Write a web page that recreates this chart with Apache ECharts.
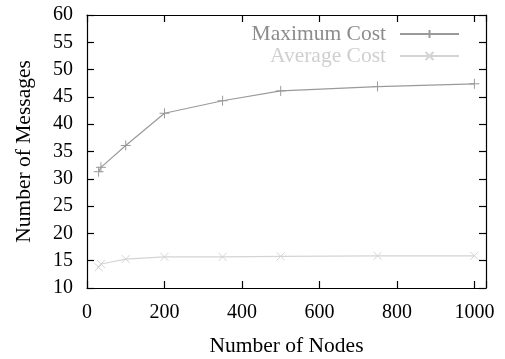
<!DOCTYPE html>
<html>
<head>
<meta charset="utf-8">
<script src="https://cdn.jsdelivr.net/npm/echarts@6/dist/echarts.min.js"></script>
<style>
html,body{margin:0;padding:0;background:#fff;}
#chart{width:505px;height:359px;}
</style>
</head>
<body>
<div id="chart"></div>
<script>
// Number of nodes and message counts per series
const nodes = [30, 36, 100, 200, 350, 500, 750, 1000];
const maxCost = [31.3, 32.1, 36.1, 42.0, 44.3, 46.1, 46.9, 47.4];
const avgCost = [13.8, 14.4, 15.3, 15.7, 15.7, 15.8, 15.9, 15.9];
const seriesNames = ['Maximum Cost', 'Average Cost'];
const xTicks = [0, 200, 400, 600, 800, 1000];
const yTicks = [10, 15, 20, 25, 30, 35, 40, 45, 50, 55, 60];

const FONT = '"Liberation Serif", "DejaVu Serif", serif';
const plusPath = 'path://M0,5L10,5M5,0L5,10';
const crossPath = 'path://M0,0L10,10M0,10L10,0';

const pair = (xs, ys) => xs.map((x, i) => [x, ys[i]]);

function frameLine() {
  return { show: true, onZero: false, lineStyle: { color: '#000', width: 1.2 } };
}
function frameTick() {
  return { show: true, inside: true, length: 7, lineStyle: { color: '#000', width: 1.2 } };
}
// Bottom/left axes carry the labels; top/right mirror the ticks
function xAxisDef(pos, withLabels) {
  return {
    type: 'value', min: 0, max: 1030, interval: 200, position: pos,
    axisLine: frameLine(), axisTick: frameTick(), splitLine: { show: false },
    axisLabel: withLabels
      ? { show: true, customValues: xTicks, formatter: v => String(v),
          fontFamily: FONT, fontSize: 20, color: '#000', margin: 15 }
      : { show: false }
  };
}
function yAxisDef(pos, withLabels) {
  return {
    type: 'value', min: 10, max: 60, interval: 5, position: pos,
    axisLine: frameLine(), axisTick: frameTick(), splitLine: { show: false },
    axisLabel: withLabels
      ? { show: true, customValues: yTicks, formatter: v => String(v),
          fontFamily: FONT, fontSize: 20, color: '#000', margin: 14 }
      : { show: false }
  };
}

const chart = echarts.init(document.getElementById('chart'));

const xBottom = Object.assign(xAxisDef('bottom', true), {
  name: 'Number of Nodes', nameLocation: 'middle', nameGap: 47,
  nameTextStyle: { fontFamily: FONT, fontSize: 21.5, color: '#000' }
});
const yLeft = Object.assign(yAxisDef('left', true), {
  name: 'Number of Messages', nameLocation: 'middle', nameGap: 52,
  nameTextStyle: { fontFamily: FONT, fontSize: 21.5, color: '#000' }
});

chart.setOption({
  animation: false,
  backgroundColor: '#fff',
  grid: { left: 87, top: 15, right: 19, bottom: 71, containLabel: false, outerBoundsMode: 'none' },
  legend: {
    orient: 'vertical', right: 40, top: 18, align: 'right',
    itemWidth: 59, itemHeight: 10, itemGap: 0,
    textStyle: { fontFamily: FONT, fontSize: 21.5, lineHeight: 22, padding: [0, 9, 0, 0] },
    data: [
      { name: seriesNames[0], textStyle: { color: '#8c8c8c' } },
      { name: seriesNames[1], textStyle: { color: '#cfcfcf' } }
    ]
  },
  xAxis: [xBottom, xAxisDef('top', false)],
  yAxis: [yLeft, yAxisDef('right', false)],
  series: [
    {
      name: seriesNames[0], type: 'line', data: pair(nodes, maxCost),
      symbol: plusPath, symbolSize: 10,
      lineStyle: { color: '#9a9a9a', width: 1.2 },
      itemStyle: { color: 'rgba(0,0,0,0)', borderColor: '#9a9a9a', borderWidth: 1 }
    },
    {
      name: seriesNames[1], type: 'line', data: pair(nodes, avgCost),
      symbol: crossPath, symbolSize: 8,
      lineStyle: { color: '#d4d4d4', width: 1.2 },
      itemStyle: { color: 'rgba(0,0,0,0)', borderColor: '#d4d4d4', borderWidth: 1 }
    }
  ]
});
</script>
</body>
</html>
